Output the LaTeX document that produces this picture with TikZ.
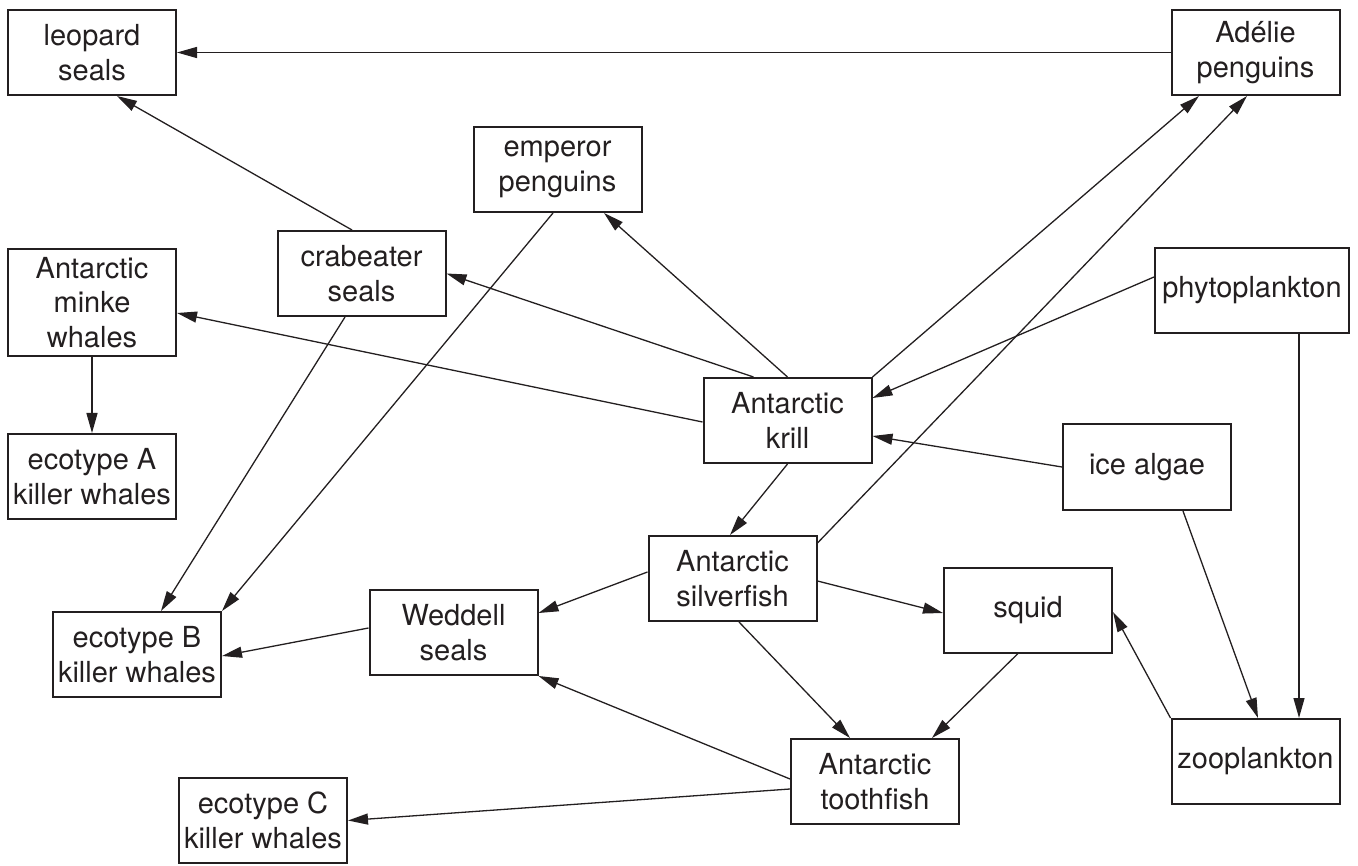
\documentclass[tikz,border=0pt]{standalone}
\usepackage{fontspec}
\setmainfont{TeX Gyre Heros}
\usetikzlibrary{arrows.meta,calc}
\definecolor{ink}{RGB}{35,31,32}
\begin{document}
\begin{tikzpicture}[x=1pt,y=-1pt,
  box/.style={draw=ink, line width=2pt, minimum width=168pt, minimum height=85pt,
    inner sep=0pt, align=center, text=ink, font=\fontsize{29}{34.5}\selectfont},
  link/.style={draw=ink, line width=1.3pt, -{Triangle[length=20pt,width=11pt]}}]
\useasboundingbox (0,0) rectangle (1358,866);

\node[box] (leopard) at (92,52.5) {leopard\\seals};
\node[box] (adelie) at (1255.5,52.5) {Adélie\\penguins};
\node[box] (emperor) at (557.5,169.5) {emperor\\penguins};
\node[box] (crab) at (361.5,273.5) {crabeater\\seals};
\node[box, minimum height=107pt] (minke) at (92,302.5) {Antarctic\\minke\\whales};
\node[box, minimum width=194pt] (phyto) at (1252,290.5) {phytoplankton};
\node[box] (krill) at (787.5,420.5) {Antarctic\\krill};
\node[box] (ecoA) at (92,476.5) {ecotype A\\killer whales};
\node[box, minimum height=86pt] (ice) at (1147,467) {ice algae};
\node[box] (silver) at (732.5,578.5) {Antarctic\\silverfish};
\node[box] (squid) at (1028,610) {squid};
\node[box] (weddell) at (453.5,632.5) {Weddell\\seals};
\node[box] (ecoB) at (137,654.5) {ecotype B\\killer whales};
\node[box] (tooth) at (875,781.5) {Antarctic\\toothfish};
\node[box] (zoo) at (1255.5,761.5) {zooplankton};
\node[box] (ecoC) at (263,820.5) {ecotype C\\killer whales};

\draw[link] (adelie.west) -- (leopard.east);
\draw[link] ($(crab.north)+(-9.5,0)$) -- ($(leopard.south)+(25,0)$);
\draw[link] ($(krill.north west)+(51,0)$) -- (crab.east);
\draw[link] (krill.north) -- ($(emperor.south)+(46.5,0)$);
\draw[link] ($(krill.west)+(0,1.5)$) -- ($(minke.east)+(0,10.5)$);
\draw[link] (krill.north east) -- ($(adelie.south)+(-56.5,0)$);
\draw[link] ($(silver.north east)+(0,8)$) -- ($(adelie.south)+(-8.5,0)$);
\draw[link] ($(phyto.west)+(0,-13.5)$) -- ($(krill.east)+(0,-22.5)$);
\draw[link] (ice.west) -- ($(krill.east)+(0,15.5)$);
\draw[link] (krill.south) -- ($(silver.north)+(-2.5,0)$);
\draw[link] ($(silver.west)+(0,-6.5)$) -- ($(weddell.east)+(0,-19.5)$);
\draw[link] ($(silver.east)+(0,2.5)$) -- ($(squid.west)+(0,3)$);
\draw[link] ($(silver.south)+(6.5,0)$) -- ($(tooth.north)+(-25,0)$);
\draw[link] ($(squid.south)+(-10,0)$) -- ($(tooth.north)+(57,0)$);
\draw[link] (zoo.north west) -- ($(squid.east)+(0,2)$);
\draw[link] ($(ice.south)+(36,0)$) -- ($(zoo.north)+(2.5,0)$);
\draw[link] ($(phyto.south)+(47,0)$) -- ($(zoo.north)+(43.5,0)$);
\draw[link] ($(tooth.west)+(0,-2.5)$) -- (weddell.south east);
\draw[link] ($(tooth.west)+(0,7.5)$) -- (ecoC.east);
\draw[link] ($(weddell.west)+(0,-4.5)$) -- ($(ecoB.east)+(0,1.5)$);
\draw[link] ($(crab.south)+(-16.5,0)$) -- ($(ecoB.north)+(24,0)$);
\draw[link] ($(emperor.south)+(-4.5,0)$) -- (ecoB.north east);
\draw[link] (minke.south) -- (ecoA.north);
\end{tikzpicture}
\end{document}
